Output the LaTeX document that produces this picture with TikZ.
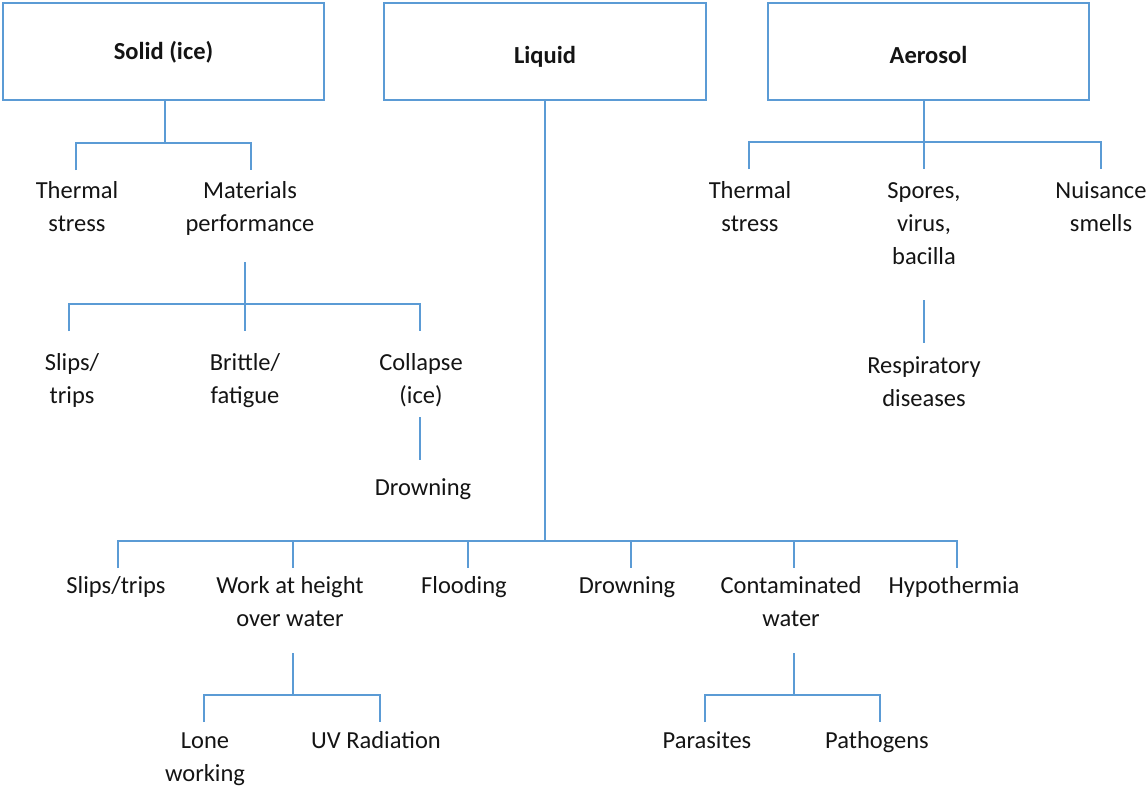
\documentclass[tikz,border=0pt]{standalone}
\usepackage{fontspec}
\setmainfont{Carlito}
\definecolor{lk}{HTML}{5B9BD5}
\definecolor{tx}{HTML}{141414}
\begin{document}
\begin{tikzpicture}[x=1pt,y=-1pt,
  link/.style={draw=lk,line width=1.5pt},
  box/.style={draw=lk,line width=1.5pt,minimum width=321pt,minimum height=97pt,inner sep=0pt,
    font=\fontsize{24.5}{30}\selectfont\bfseries,text=tx},
  lbl/.style={font=\fontsize{24.5}{33}\selectfont,align=center,inner sep=0pt,anchor=base,text=tx}]
\useasboundingbox (0,0) rectangle (1147,785);
% top boxes
\node[box,text height=18pt,text depth=3pt] (solid) at (163.5,51.5) {Solid (ice)};
\node[box,minimum width=322pt,text height=25pt,text depth=2pt] (liquid) at (545,51.5) {Liquid};
\node[box,text height=25pt,text depth=2pt] (aerosol) at (928.5,51.5) {Aerosol};
% solid branch (anchor = baseline of last line)
\node[lbl] (th1) at (77,231) {Thermal\\stress};
\node[lbl] (mp) at (250,231) {Materials\\performance};
\node[lbl] (sl1) at (72,403) {Slips/\\trips};
\node[lbl] (br) at (245,403) {Brittle/\\fatigue};
\node[lbl] (co) at (421,403) {Collapse\\(ice)};
\node[lbl] (dr1) at (423,495) {Drowning};
% aerosol branch
\node[lbl] (th2) at (750,231) {Thermal\\stress};
\node[lbl] (sp) at (924,264) {Spores,\\virus,\\bacilla};
\node[lbl] (nu) at (1101,231) {Nuisance\\smells};
\node[lbl] (re) at (924,406) {Respiratory\\diseases};
% liquid branch
\node[lbl] (sl2) at (116,593) {Slips/trips};
\node[lbl] (wh) at (290,626) {Work at height\\over water};
\node[lbl] (fl) at (464,593) {Flooding};
\node[lbl] (dr2) at (627,593) {Drowning};
\node[lbl] (cw) at (791,626) {Contaminated\\water};
\node[lbl] (hy) at (954,593) {Hypothermia};
\node[lbl] (lw) at (205,781) {Lone\\working};
\node[lbl] (uv) at (376,748) {UV Radiation};
\node[lbl] (pa) at (707,748) {Parasites};
\node[lbl] (pg) at (877,748) {Pathogens};
% connector points
\coordinate (sj) at (165,143);
\coordinate (s1) at (76,170);
\coordinate (s2) at (251,170);
\coordinate (m0) at (245,262);
\coordinate (mj) at (245,304);
\coordinate (m1) at (69,331);
\coordinate (m2) at (245,331);
\coordinate (m3) at (420,331);
\coordinate (c0) at (420,417);
\coordinate (c1) at (420,460);
\coordinate (aj) at (924,142);
\coordinate (a1) at (749,169);
\coordinate (a2) at (924,169);
\coordinate (a3) at (1101,169);
\coordinate (r0) at (924,300);
\coordinate (r1) at (924,343);
\coordinate (lj) at (545,541);
\coordinate (l1) at (118,568);
\coordinate (l2) at (293,568);
\coordinate (l3) at (468,568);
\coordinate (l4) at (631,568);
\coordinate (l5) at (794,568);
\coordinate (l6) at (957,568);
\coordinate (w0) at (293,653);
\coordinate (wj) at (293,695);
\coordinate (w1) at (204,722);
\coordinate (w2) at (380,722);
\coordinate (k0) at (794,653);
\coordinate (kj) at (794,695);
\coordinate (k1) at (705,722);
\coordinate (k2) at (880,722);
% connectors
\draw[link] (sj |- solid.south) -- (sj);
\draw[link] (s1) |- (sj) -| (s2);
\draw[link] (m0) -- (m2);
\draw[link] (m1) |- (mj) -| (m3);
\draw[link] (c0) -- (c1);
\draw[link] (aj |- aerosol.south) -- (a2);
\draw[link] (a1) |- (aj) -| (a3);
\draw[link] (r0) -- (r1);
\draw[link] (lj |- liquid.south) -- (lj);
\draw[link] (l1) |- (lj) -| (l6);
\draw[link] (l2 |- lj) -- (l2);
\draw[link] (l3 |- lj) -- (l3);
\draw[link] (l4 |- lj) -- (l4);
\draw[link] (l5 |- lj) -- (l5);
\draw[link] (w0) -- (wj);
\draw[link] (w1) |- (wj) -| (w2);
\draw[link] (k0) -- (kj);
\draw[link] (k1) |- (kj) -| (k2);
\end{tikzpicture}
\end{document}
